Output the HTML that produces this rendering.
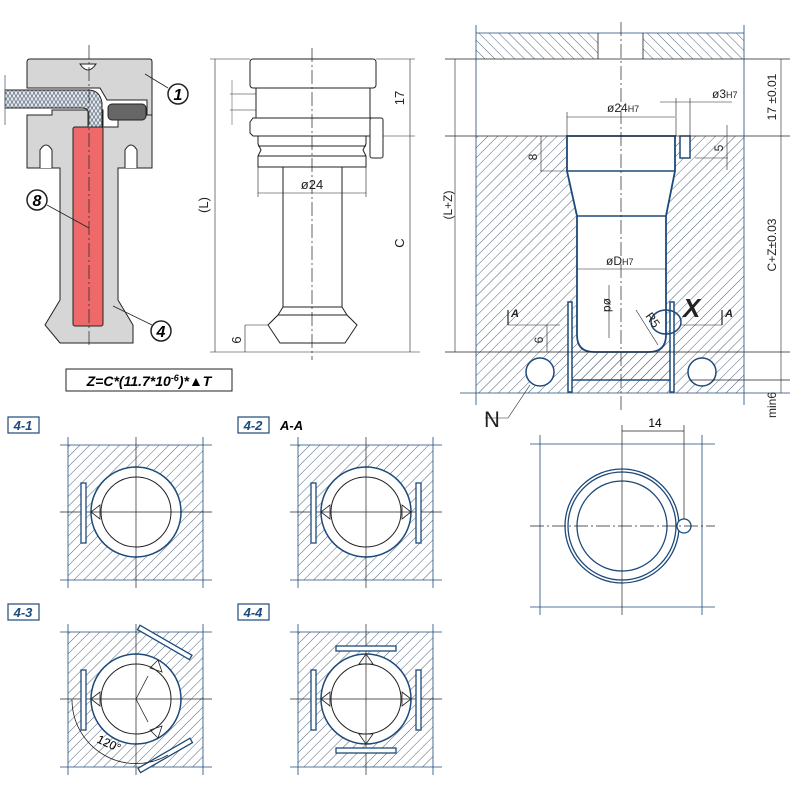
<!DOCTYPE html>
<html><head><meta charset="utf-8"><style>
html,body{margin:0;padding:0;background:#fff}
svg{display:block}
text{font-family:"Liberation Sans",sans-serif}
</style></head><body>
<svg width="800" height="800" viewBox="0 0 800 800" xmlns="http://www.w3.org/2000/svg">
<defs>
<pattern id="h1" width="7" height="7" patternUnits="userSpaceOnUse" patternTransform="rotate(45)"><line x1="0" y1="0" x2="0" y2="7" stroke="#4f647c" stroke-width="1"/></pattern>
<pattern id="h2" width="7" height="7" patternUnits="userSpaceOnUse" patternTransform="rotate(-45)"><line x1="0" y1="0" x2="0" y2="7" stroke="#4f647c" stroke-width="1"/></pattern>
<pattern id="braid" width="8" height="6" patternUnits="userSpaceOnUse"><rect width="8" height="6" fill="#dfeaf0"/><path d="M0 6L4 0L8 6M0 0L4 6L8 0" stroke="#556" stroke-width="0.6" fill="none"/></pattern>
</defs>

<!-- ===== Left illustration ===== -->
<g stroke="#222" stroke-width="1">
<path d="M27 62 Q27 59 30 59 L150 59 Q152 59 152 62 L152 123 L147 123 L147 100 L107 100 L100 88 L27 88 Z" fill="#d6d6d6"/>
<path d="M27 115 L52 115 L52 110 L103 110 L103 127 L118 127 L118 115 L152 115 L152 168 L118 168 L118 300 L133 325 L133 343 L60 343 L45 325 L60 300 L60 168 L27 168 Z" fill="#d6d6d6"/>
<path d="M5 90 L88 90 Q100 90 102 103 L102 127 L88 127 L88 112 Q88 108 82 108 L5 108 Z" fill="url(#braid)"/>
<rect x="108" y="104" width="38" height="16" rx="4" fill="#666"/>
<path d="M40 168 L40 150 Q46 140 52 150 L52 168 M125 168 L125 150 Q131 140 137 150 L137 168" fill="#fff"/>
<path d="M80 64 Q88 76 96 64 Z" fill="#fff"/>
<rect x="73" y="127" width="30" height="199" rx="2" fill="#ee6a6a"/>
</g>
<line x1="89" y1="45" x2="89" y2="345" stroke="#222" stroke-width="0.7" stroke-dasharray="14,3,2,3"/>
<line x1="5" y1="75" x2="5" y2="125" stroke="#567" stroke-width="0.8"/>
<g stroke="#222" stroke-width="0.8" fill="none"><line x1="145" y1="74" x2="168" y2="88"/><line x1="47" y1="205" x2="89" y2="228"/><line x1="113" y1="306" x2="152" y2="325"/></g>
<g fill="#fff" stroke="#222" stroke-width="1.5"><circle cx="178" cy="94" r="10"/><circle cx="37" cy="200" r="10"/><circle cx="161" cy="331" r="10"/></g>
<g font-size="16" font-weight="bold" font-style="italic" text-anchor="middle"><text x="178" y="100">1</text><text x="37" y="206">8</text><text x="161" y="337">4</text></g>

<!-- ===== Middle drawing ===== -->
<g stroke="#222" stroke-width="1" fill="#fff">
<rect x="250" y="59" width="126" height="29" rx="3"/>
<rect x="256" y="88" width="114" height="30"/>
<path d="M253 118 L373 118 L376 122 L376 133 L373 136 L253 136 L250 133 L250 122 Z"/>
<path d="M258 136 L366 136 L366 144 L363 150 L366 156 L366 167 L258 167 L258 156 L261 150 L258 144 Z"/>
<line x1="258" y1="146" x2="366" y2="146"/><line x1="258" y1="156" x2="366" y2="156"/>
<rect x="370" y="118" width="13" height="40" rx="2"/>
<rect x="283" y="167" width="59" height="140"/>
<path d="M283 307 L278 315 L268 325 L280 343 L345 343 L357 325 L347 315 L342 307 Z"/>
<line x1="278" y1="315" x2="347" y2="315"/>
</g>
<line x1="312" y1="48" x2="312" y2="360" stroke="#222" stroke-width="0.7" stroke-dasharray="14,3,2,3"/>
<g stroke="#222" stroke-width="0.6">
<line x1="215" y1="59" x2="215" y2="352"/><line x1="210" y1="59" x2="250" y2="59"/><line x1="210" y1="352" x2="420" y2="352"/>
<line x1="410" y1="59" x2="410" y2="352"/><line x1="376" y1="59" x2="415" y2="59"/><line x1="383" y1="136" x2="415" y2="136"/>
<line x1="258" y1="193" x2="366" y2="193"/><line x1="258" y1="167" x2="258" y2="197"/><line x1="366" y1="167" x2="366" y2="197"/>
<line x1="245" y1="325" x2="268" y2="325"/><line x1="245" y1="325" x2="245" y2="352"/>
<line x1="230" y1="94" x2="256" y2="94"/><line x1="230" y1="110" x2="256" y2="110"/><line x1="232" y1="80" x2="232" y2="125" stroke="#567"/>
</g>
<g font-size="13" fill="#222">
<text x="312" y="189" text-anchor="middle">ø24</text>
<text transform="translate(208,205) rotate(-90)" text-anchor="middle">(L)</text>
<text transform="translate(404,243) rotate(-90)" text-anchor="middle">C</text>
<text transform="translate(404,98) rotate(-90)" text-anchor="middle">17</text>
<text transform="translate(241,340) rotate(-90)" text-anchor="middle">6</text>
</g>

<!-- formula -->
<rect x="66" y="369" width="166" height="22" fill="#fff" stroke="#222" stroke-width="1"/>
<text x="149" y="386" font-size="14" font-weight="bold" font-style="italic" text-anchor="middle">Z=C*(11.7*10<tspan font-size="9" dy="-5">-6</tspan><tspan dy="5">)*▲T</tspan></text>

<!-- ===== Right drawing ===== -->
<rect x="476" y="33" width="122" height="26" fill="url(#h2)"/>
<rect x="643" y="33" width="101" height="26" fill="url(#h2)"/>
<rect x="476" y="136" width="268" height="257" fill="url(#h1)"/>
<path d="M567 136 L675 136 L675 171 L666 216 L666 335 Q666 352 649 352 L594 352 Q577 352 577 335 L577 216 L567 171 Z" fill="#fff" stroke="#1c4a7a" stroke-width="1.8"/>
<rect x="572" y="352" width="98" height="28" fill="url(#h1)"/>
<g stroke="#1c4a7a" stroke-width="1.5" fill="#fff">
<line x1="567" y1="171" x2="675" y2="171"/><line x1="577" y1="216" x2="666" y2="216"/>
<rect x="568" y="302" width="4" height="90"/><rect x="670" y="302" width="4" height="90"/>
<line x1="572" y1="380" x2="670" y2="380"/>
<rect x="680" y="136" width="10" height="22"/>
<circle cx="540" cy="372" r="14"/><circle cx="702" cy="372" r="14"/>
<ellipse cx="666" cy="322" rx="15" ry="12" fill="none"/>
</g>
<g stroke="#222" stroke-width="0.8">
<line x1="445" y1="59" x2="790" y2="59"/><line x1="476" y1="33" x2="744" y2="33" stroke="#1c4a7a"/>
<line x1="445" y1="136" x2="790" y2="136"/><line x1="445" y1="352" x2="790" y2="352"/>
<line x1="690" y1="380" x2="790" y2="380"/><line x1="460" y1="393" x2="790" y2="393" stroke="#1c4a7a"/>
<line x1="476" y1="25" x2="476" y2="405" stroke="#1c4a7a"/><line x1="744" y1="25" x2="744" y2="405" stroke="#1c4a7a"/>
<line x1="598" y1="33" x2="598" y2="59"/><line x1="643" y1="33" x2="643" y2="59"/>
<line x1="455" y1="59" x2="455" y2="352" stroke-width="0.6"/>
<line x1="781" y1="59" x2="781" y2="393" stroke-width="0.6"/>
<line x1="567" y1="117" x2="675" y2="117" stroke-width="0.6"/><line x1="567" y1="112" x2="567" y2="136" stroke-width="0.6"/>
<line x1="660" y1="102" x2="732" y2="102" stroke-width="0.6"/><line x1="676" y1="98" x2="676" y2="136" stroke-width="0.6"/><line x1="690" y1="98" x2="690" y2="136" stroke-width="0.6"/>
<line x1="577" y1="269" x2="666" y2="269" stroke-width="0.6"/>
<line x1="540" y1="171" x2="567" y2="171" stroke-width="0.6"/><line x1="541" y1="136" x2="541" y2="171" stroke-width="0.6"/>
<line x1="695" y1="158" x2="728" y2="158" stroke-width="0.6"/><line x1="727" y1="125" x2="727" y2="170" stroke-width="0.6"/>
<line x1="547" y1="325" x2="547" y2="352" stroke-width="0.6"/>
<line x1="609" y1="285" x2="609" y2="338" stroke-width="0.6"/>
<line x1="636" y1="310" x2="658" y2="345" stroke-width="0.6"/>
<line x1="508" y1="325" x2="560" y2="325" stroke-width="0.6"/><line x1="680" y1="325" x2="722" y2="325" stroke-width="0.6"/>
<line x1="508" y1="310" x2="508" y2="325" stroke-width="1.2"/><line x1="722" y1="310" x2="722" y2="325" stroke-width="1.2"/>
<line x1="530" y1="385" x2="508" y2="418" stroke-width="0.6"/><line x1="485" y1="418" x2="508" y2="418" stroke-width="0.6"/>
</g>
<line x1="621" y1="22" x2="621" y2="410" stroke="#222" stroke-width="0.7" stroke-dasharray="14,3,2,3"/>
<g font-size="12" fill="#222">
<text x="607" y="112">ø24<tspan font-size="9">H7</tspan></text>
<text x="712" y="98">ø3<tspan font-size="9">H7</tspan></text>
<text x="606" y="265">øD<tspan font-size="9">H7</tspan></text>
<text transform="translate(604,298) rotate(90)">ød</text>
<text transform="translate(645,316) rotate(55)">R5</text>
<text transform="translate(537,157) rotate(-90)" text-anchor="middle">8</text>
<text transform="translate(723,148) rotate(-90)" text-anchor="middle">5</text>
<text transform="translate(543,340) rotate(-90)" text-anchor="middle">6</text>
<text transform="translate(452,205) rotate(-90)" text-anchor="middle">(L+Z)</text>
<text transform="translate(776,97) rotate(-90)" text-anchor="middle">17 ±0.01</text>
<text transform="translate(776,245) rotate(-90)" text-anchor="middle">C+Z±0.03</text>
<text transform="translate(776,405) rotate(-90)" text-anchor="middle">min6</text>
<text x="511" y="317" font-weight="bold" font-style="italic" font-size="11">A</text>
<text x="725" y="317" font-weight="bold" font-style="italic" font-size="11">A</text>
<text x="683" y="317" font-weight="bold" font-style="italic" font-size="26">X</text>
<text x="484" y="427" font-size="22">N</text>
</g>

<!-- ===== Plan view (right bottom) ===== -->
<g stroke="#1c4a7a" stroke-width="0.8" fill="none">
<line x1="530" y1="444" x2="715" y2="444"/><line x1="530" y1="607" x2="715" y2="607"/>
<line x1="540" y1="435" x2="540" y2="615"/><line x1="702" y1="435" x2="702" y2="615"/>
<circle cx="622" cy="526" r="57" stroke-width="1.3"/><circle cx="622" cy="526" r="54" stroke-width="1.3"/><circle cx="622" cy="526" r="45" stroke-width="1.3"/>
<circle cx="684" cy="526" r="7" stroke-width="1.3" fill="#fff"/>
</g>
<g stroke="#222" stroke-width="0.7">
<line x1="530" y1="526" x2="715" y2="526" stroke-dasharray="14,3,2,3"/>
<line x1="622" y1="425" x2="622" y2="615"/>
<line x1="684" y1="425" x2="684" y2="519"/><line x1="622" y1="431" x2="684" y2="431"/>
</g>
<text x="655" y="427" font-size="12" text-anchor="middle">14</text>

<!-- ===== 4 small views ===== -->
<g id="v1">
<rect x="68" y="445" width="135" height="135" fill="url(#h1)"/>
<g stroke="#1c4a7a" stroke-width="0.8"><line x1="60" y1="445" x2="212" y2="445"/><line x1="60" y1="580" x2="212" y2="580"/><line x1="68" y1="437" x2="68" y2="588"/><line x1="203" y1="437" x2="203" y2="588"/></g>
<circle cx="136" cy="512" r="45" fill="#fff" stroke="#1c4a7a" stroke-width="1.5"/>
<circle cx="136" cy="512" r="35" fill="none" stroke="#222" stroke-width="1"/>
<g stroke="#222" stroke-width="0.7"><line x1="60" y1="512" x2="212" y2="512"/><line x1="136" y1="437" x2="136" y2="588"/></g>
</g>
<use href="#v1" x="230" y="0"/>
<use href="#v1" x="0" y="187"/>
<use href="#v1" x="230" y="187"/>
<g fill="#fff" stroke="#1c4a7a" stroke-width="1.3">
<rect x="81" y="483" width="5" height="60"/>
<rect x="311" y="483" width="5" height="60"/><rect x="416" y="483" width="5" height="60"/>
<rect x="81" y="670" width="5" height="60"/>
<rect x="311" y="670" width="5" height="60"/><rect x="416" y="670" width="5" height="60"/>
<rect x="336" y="646" width="60" height="5"/><rect x="336" y="748" width="60" height="5"/>
<rect x="135" y="640" width="60" height="5" transform="rotate(30 165 642)"/>
<rect x="135" y="753" width="60" height="5" transform="rotate(-30 165 755)"/>
</g>
<g fill="none" stroke="#222" stroke-width="0.8">
<path d="M91 512 L100 505 L100 519 Z M321 512 L330 505 L330 519 Z M411 512 L402 505 L402 519 Z"/>
<path d="M91 699 L100 692 L100 706 Z M321 699 L330 692 L330 706 Z M411 699 L402 692 L402 706 Z"/>
<path d="M366 654 L359 664 L373 664 Z M366 744 L359 734 L373 734 Z"/>
<path d="M158 660 L150 668 L162 672 Z M158 738 L150 730 L162 726 Z"/>
<path d="M136 699 L148 676 M136 699 L148 722"/>
<path d="M72 700 A64 64 0 0 0 168 755"/>
</g>
<text transform="translate(96,742) rotate(25)" font-size="12">120°</text>
<g font-size="13" font-weight="bold" font-style="italic" fill="#1c4a7a" text-anchor="middle">
<rect x="8" y="417" width="31" height="16" fill="#fff" stroke="#1c4a7a" stroke-width="1.2"/><text x="23" y="430">4-1</text>
<rect x="238" y="417" width="31" height="16" fill="#fff" stroke="#1c4a7a" stroke-width="1.2"/><text x="253" y="430">4-2</text>
<rect x="8" y="604" width="31" height="16" fill="#fff" stroke="#1c4a7a" stroke-width="1.2"/><text x="23" y="617">4-3</text>
<rect x="238" y="604" width="31" height="16" fill="#fff" stroke="#1c4a7a" stroke-width="1.2"/><text x="253" y="617">4-4</text>
</g>
<text x="280" y="430" font-size="13" font-weight="bold" font-style="italic">A-A</text>
</svg>
</body></html>
